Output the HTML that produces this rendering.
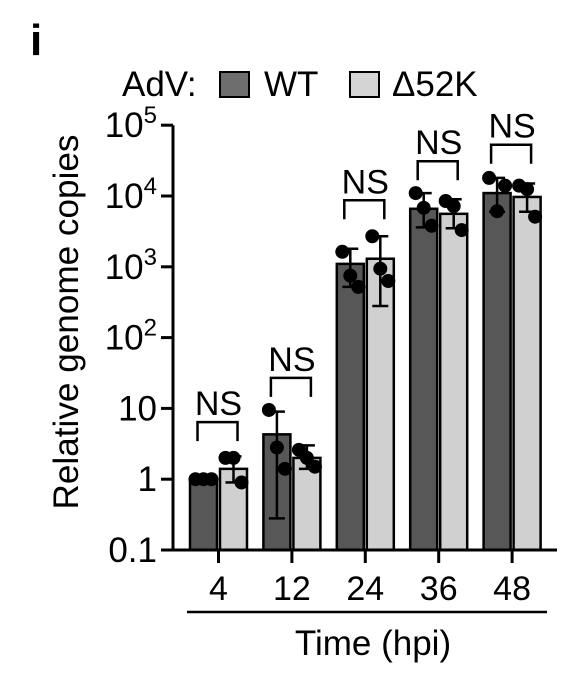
<!DOCTYPE html>
<html><head><meta charset="utf-8"><style>
html,body{margin:0;padding:0;background:#fff;}
svg{display:block;font-family:"Liberation Sans",Arial,sans-serif;}
</style></head><body>
<svg id="chart" width="566" height="680" viewBox="0 0 566 680" xmlns="http://www.w3.org/2000/svg">
<text x="30" y="55" font-size="44" font-weight="bold">i</text>
<g>
<text x="122" y="96" font-size="35">AdV:</text>
<rect x="220" y="72" width="29" height="25" fill="#6e6e6e" stroke="#000" stroke-width="2"/>
<text x="264" y="96" font-size="35">WT</text>
<rect x="350" y="72" width="29" height="25" fill="#d4d4d4" stroke="#000" stroke-width="2"/>
<text x="392" y="96" font-size="35">Δ52K</text>
</g>
<text transform="translate(78,322) rotate(-90)" text-anchor="middle" font-size="35" textLength="375" lengthAdjust="spacingAndGlyphs">Relative genome copies</text>
<g id="plot"></g>
<text x="373" y="655" text-anchor="middle" font-size="35">Time (hpi)</text>
</svg>
<script>
const categories = ["4","12","24","36","48"];
const wtMeans = [1.0, 4.3, 1100, 6600, 11000];
const dMeans = [1.4, 2.0, 1300, 5600, 9700];
const wtErrLo = [1.0, 0.28, 520, 3600, 6000];
const wtErrHi = [1.0, 9.0, 1800, 11000, 18000];
const dErrLo = [0.9, 1.4, 280, 3500, 6000];
const dErrHi = [2.1, 3.0, 2700, 9000, 15000];
const wtPoints = [[1,1,1],[9.5,2.8,1.4],[1630,750,520],[11000,6800,3800],[18000,6100,14000]];
const dPoints = [[2,2,0.9],[2.6,2.0,1.5],[2700,940,630],[8500,7200,3300],[14000,12500,5100]];
const yTickValues = [0.1,1,10,100,1000,10000,100000];
const yTickLabels = ["0.1","1","10","10^2","10^3","10^4","10^5"];
const nsLabels = ["NS","NS","NS","NS","NS"];
const nsBracketLevels = [6.4, 27, 8700, 31000, 53000];

const NS="http://www.w3.org/2000/svg";
const plot=document.getElementById('plot');
const y0=550, decade=70.8;
function yScale(v){return y0-(Math.log10(v)+1)*decade;}
function xCenter(i){return 218.5+i*73.4;}
function mk(tag,attrs,parent){const e=document.createElementNS(NS,tag);for(const k in attrs)e.setAttribute(k,attrs[k]);(parent||plot).appendChild(e);return e;}

const yax=mk('line',{x1:173,y1:yScale(100000),x2:173,y2:y0+1.5,stroke:'#000','stroke-width':3});


yTickValues.forEach((v,i)=>{
  const y=yScale(v);
  const t=mk('line',{x1:161,y1:y,x2:173,y2:y,stroke:'#000','stroke-width':3});
  
  
  const lab=yTickLabels[i];
  const tx=mk('text',{x:157,y:y+12,'text-anchor':'end','font-size':35});
  
  
  if(lab.indexOf('^')>=0){
    const p=lab.split('^');
    const s1=document.createElementNS(NS,'tspan');s1.textContent=p[0];tx.appendChild(s1);
    const s2=document.createElementNS(NS,'tspan');s2.setAttribute('dy','-14');s2.setAttribute('font-size','24');s2.textContent=p[1];tx.appendChild(s2);
  } else tx.textContent=lab;
});

function drawBar(cx,mean,lo,hi,pts,fill,name){
  const w=27;
  const yt=yScale(mean);
  const r=mk('rect',{x:cx-w/2,y:yt,width:w,height:y0-yt,fill:fill,stroke:'#000','stroke-width':2.5});
  
  
  const e=mk('line',{x1:cx,y1:yScale(hi),x2:cx,y2:yScale(lo),stroke:'#000','stroke-width':2.5});
  
  
  [hi,lo].forEach(v=>{
    const c=mk('line',{x1:cx-8,y1:yScale(v),x2:cx+8,y2:yScale(v),stroke:'#000','stroke-width':2.5});
    
    
  });
  const offs=[-8,0,8];
  pts.forEach((v,j)=>{
    const p=mk('circle',{cx:cx+offs[j],cy:yScale(v),r:7,fill:'#000'});
    
    
  });
}
categories.forEach((c,i)=>{
  const cx=xCenter(i);
  drawBar(cx-15,wtMeans[i],wtErrLo[i],wtErrHi[i],wtPoints[i],'#575757','wt-'+c);
  drawBar(cx+15,dMeans[i],dErrLo[i],dErrHi[i],dPoints[i],'#d0d0d0','d52k-'+c);
  const by=yScale(nsBracketLevels[i]);
  const b=mk('path',{d:`M${cx-21},${by+19} V${by} H${cx+19} V${by+19}`,fill:'none',stroke:'#000','stroke-width':2.5});
  
  
  const t=mk('text',{x:cx,y:by-7,'text-anchor':'middle','font-size':34});
  t.textContent=nsLabels[i];
  
  
  const xt=mk('line',{x1:cx,y1:y0,x2:cx,y2:563,stroke:'#000','stroke-width':3});
  
  
  const xl=mk('text',{x:cx,y:600,'text-anchor':'middle','font-size':34});
  xl.textContent=c;
  
  
});
const xax=mk('line',{x1:161,y1:y0,x2:557,y2:y0,stroke:'#000','stroke-width':3});


const ul=mk('line',{x1:187,y1:612,x2:547,y2:612,stroke:'#000','stroke-width':2.5});


</script>
</body></html>
